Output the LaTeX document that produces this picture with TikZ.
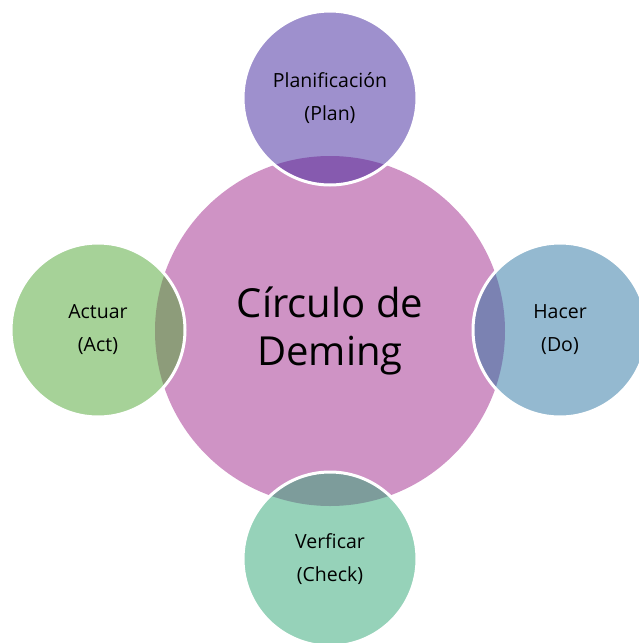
\documentclass[tikz,border=0pt]{standalone}
\usepackage{fontspec}
\setmainfont{Open Sans}
\definecolor{cpink}{RGB}{207,147,197}
\definecolor{cplan}{RGB}{62,34,155}
\definecolor{cdo}{RGB}{41,115,161}
\definecolor{cact}{RGB}{77,165,49}
\definecolor{ccheck}{RGB}{45,165,115}
\tikzset{
  bigcirc/.style={circle, inner sep=0pt, minimum size=350pt, fill=cpink, align=center,
    font=\fontsize{40}{48}\selectfont},
  smallcirc/.style={circle, inner sep=0pt, minimum size=174pt, draw=white, line width=3pt,
    fill opacity=0.5, text opacity=1, draw opacity=1, align=center,
    font=\fontsize{19.5}{33}\selectfont}
}
\begin{document}
\begin{tikzpicture}[x=1pt,y=-1pt]
\useasboundingbox (0,0) rectangle (638,643);
\node[bigcirc] (deming) at (330,331) {Círculo de\\Deming};
\node[smallcirc, fill=cplan] (plan) at (330,98) {Planificación\\(Plan)};
\node[smallcirc, fill=cdo] (do) at (560,330) {Hacer\\(Do)};
\node[smallcirc, fill=cact] (act) at (98,330) {Actuar\\(Act)};
\node[smallcirc, fill=ccheck] (check) at (330,559) {Verficar\\(Check)};
\end{tikzpicture}
\end{document}
